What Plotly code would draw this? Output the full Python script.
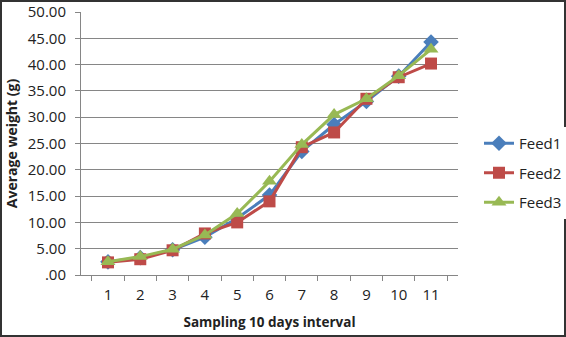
import plotly.graph_objects as go

categories = ["1", "2", "3", "4", "5", "6", "7", "8", "9", "10", "11"]
feed1 = [2.5, 3.3, 4.8, 7.2, 10.8, 15.2, 23.5, 28.6, 33.0, 37.8, 44.3]
feed2 = [2.4, 3.0, 4.7, 7.9, 10.0, 14.0, 24.3, 27.1, 33.5, 37.6, 40.2]
feed3 = [2.5, 3.5, 4.9, 7.6, 11.7, 17.8, 24.8, 30.5, 33.5, 37.9, 42.9]
ytickvals = [0, 5, 10, 15, 20, 25, 30, 35, 40, 45, 50]
yticktext = [".00", "5.00", "10.00", "15.00", "20.00", "25.00", "30.00", "35.00", "40.00", "45.00", "50.00"]

W, H = 566, 337
ML, MR, MT, MB = 81, 108, 12, 62
FONT = "Open Sans"

fig = go.Figure()
fig.add_trace(go.Scatter(x=categories, y=feed1, name="Feed1", mode="lines+markers",
                         legendgroup="g1",
                         line=dict(color="#4a7ebb", width=3),
                         marker=dict(symbol="diamond", size=12, color="#4a7ebb")))
fig.add_trace(go.Scatter(x=categories, y=feed2, name="Feed2", mode="lines+markers",
                         legendgroup="g2",
                         line=dict(color="#be4b48", width=3),
                         marker=dict(symbol="square", size=12, color="#be4b48")))
fig.add_trace(go.Scatter(x=categories, y=feed3, name="Feed3", mode="lines+markers",
                         legendgroup="g3",
                         line=dict(color="#98b954", width=3),
                         marker=dict(symbol="triangle-up", size=13, color="#98b954")))

pw = W - ML - MR
ph = H - MT - MB
fig.add_shape(type="rect", xref="paper", yref="paper",
              x0=-(ML - 1) / pw, x1=1 + (MR - 1) / pw,
              y0=-(MB - 1) / ph, y1=1 + (MT - 1) / ph,
              line=dict(color="#333333", width=2), fillcolor="rgba(0,0,0,0)", layer="below")

fig.update_layout(
    width=W, height=H,
    margin=dict(l=ML, r=MR, t=MT, b=MB, autoexpand=False),
    paper_bgcolor="white", plot_bgcolor="white",
    font=dict(family=FONT, size=15, color="#222222"),
    showlegend=True,
    legend=dict(x=(482 - ML - 3) / pw, y=(275 - 173) / ph, yanchor="middle", xanchor="left",
                font=dict(family=FONT, size=15, color="#222222"),
                traceorder="grouped", tracegroupgap=7, itemwidth=30),
    xaxis=dict(type="category", tickson="boundaries", ticks="outside", ticklen=5,
               tickcolor="#868686", showline=True, linecolor="#868686", linewidth=1,
               showgrid=False, automargin=False, ticklabelstandoff=6,
               title=dict(text="<b>Sampling 10 days interval</b>", font=dict(size=13.5), standoff=14),
               tickfont=dict(size=15)),
    yaxis=dict(range=[0, 50], tickvals=ytickvals, ticktext=yticktext,
               ticks="outside", ticklen=5, tickcolor="#868686",
               showline=True, linecolor="#868686", linewidth=1, automargin=False,
               showgrid=True, gridcolor="#868686", gridwidth=1, zeroline=False,
               ticklabelstandoff=6,
               title=dict(text="<b>Average weight (g)</b>", font=dict(size=14), standoff=6),
               tickfont=dict(size=15)),
)

fig.write_html("out.html")
